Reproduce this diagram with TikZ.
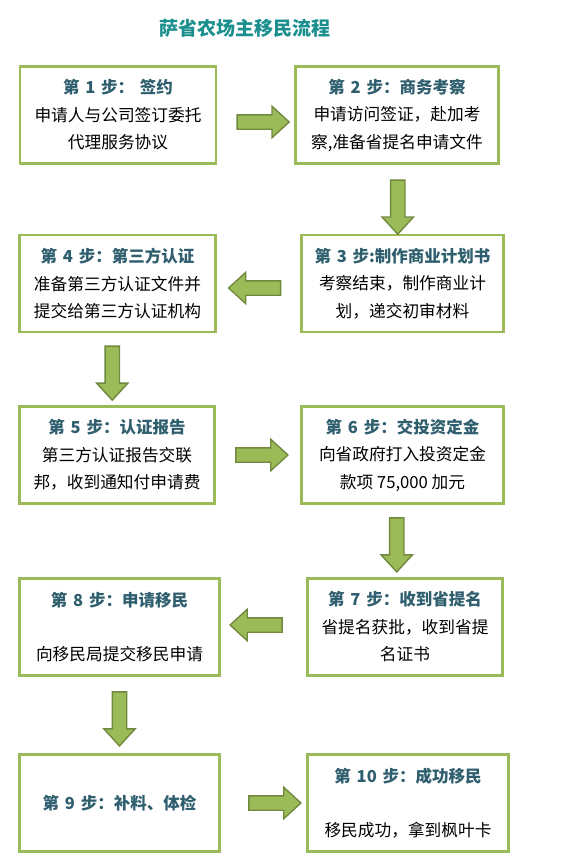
\documentclass[tikz,border=0pt]{standalone}
\usepackage{fontspec}
\setmainfont{Noto Sans CJK SC}
\usetikzlibrary{shapes.arrows}
\definecolor{Olive}{HTML}{9BBB59}
\definecolor{OliveDark}{HTML}{71893F}
\definecolor{Teal}{HTML}{1B8E8E}
\definecolor{Slate}{HTML}{2F5F6E}
\newcommand{\stephead}[1]{{\bfseries\color{Slate}\fontsize{16.5}{27.5}\selectfont #1}}
\newcommand{\gap}{\hspace{0.35em}}

\begin{document}
\begin{tikzpicture}[x=1pt,y=-1pt,
      box/.style={draw=Olive,line width=2.8pt,fill=white,minimum height=97pt,
        inner sep=0pt,align=center,font=\fontsize{16.7}{27.5}\selectfont},
      rarr/.style={single arrow,draw=OliveDark,fill=Olive,line width=1.4pt,
        minimum height=52pt,minimum width=30pt,single arrow head extend=8.5pt,
        single arrow tip angle=85,inner sep=6.5pt},
      darr/.style={rarr,shape border rotate=270,minimum height=54pt}]
      \useasboundingbox (0,0) rectangle (561,868);
      \node[font=\bfseries\fontsize{19}{22}\selectfont,text=Teal] (title) at (245,28) {萨省农场主移民流程};
      \node[box,minimum width=196pt] (s1) at (118,115) {\stephead{第\gap 1\gap 步：\gap 签约}\\申请人与公司签订委托\\代理服务协议};
      \node[box,minimum width=203pt] (s2) at (397,115) {\stephead{第\gap 2\gap 步：商务考察}\\申请访问签证，赴加考\\察,准备省提名申请文件};
      \node[box,minimum width=202pt] (s3) at (402.5,283.5) {\stephead{第\gap 3\gap 步:制作商业计划书}\\考察结束，制作商业计\\划，递交初审材料};
      \node[box,minimum width=196pt] (s4) at (117.5,283.5) {\stephead{第\gap 4\gap 步：第三方认证}\\准备第三方认证文件并\\提交给第三方认证机构};
      \node[box,minimum width=195pt] (s5) at (117,455) {\stephead{第\gap 5\gap 步：认证报告}\\第三方认证报告交联\\邦，收到通知付申请费};
      \node[box,minimum width=202pt] (s6) at (402.5,455) {\stephead{第\gap 6\gap 步：交投资定金}\\向省政府打入投资定金\\款项 75,000 加元};
      \node[box,minimum width=195pt] (s7) at (405,627) {\stephead{第\gap 7\gap 步：收到省提名}\\省提名获批，收到省提\\名证书};
      \node[box,minimum width=200pt] (s8) at (119.5,627) {\stephead{第\gap 8\gap 步：申请移民}\\[27pt]向移民局提交移民申请};
      \node[box,minimum width=200pt] (s9) at (119.5,803) {\stephead{第\gap 9\gap 步：补料、体检}};
      \node[box,minimum width=201pt] (s10) at (408,803) {\stephead{第\gap 10\gap 步：成功移民}\\[27pt]移民成功，拿到枫叶卡};
      \path (s1) -- node[rarr,xshift=3.5pt,yshift=-7pt] {} (s2);
      \path (s2) -- node[darr,xshift=-2pt,yshift=-4pt] {} (s3);
      \path (s3) -- node[rarr,shape border rotate=180,yshift=-4.5pt] {} (s4);
      \path (s4) -- node[darr,xshift=-5pt] {} (s5);
      \path (s5) -- node[rarr] {} (s6);
      \path (s6) -- node[darr,xshift=-7pt] {} (s7);
      \path (s7) -- node[rarr,shape border rotate=180,xshift=-3.5pt,yshift=2pt] {} (s8);
      \path (s8) -- node[darr] {} (s9);
      \path (s9) -- node[rarr,xshift=7.5pt] {} (s10);
    \end{tikzpicture}
\end{document}
